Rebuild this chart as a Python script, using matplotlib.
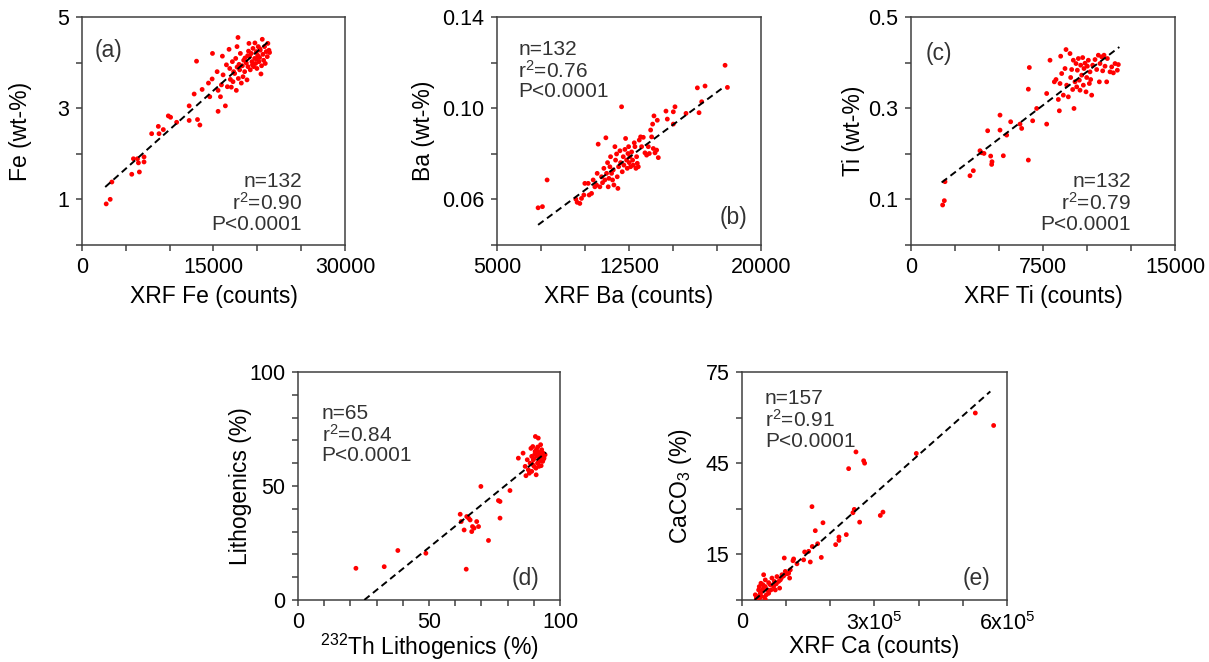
import matplotlib
matplotlib.use("Agg")
import matplotlib.pyplot as plt

plt.rcParams['font.family'] = ['Liberation Sans', 'DejaVu Sans']
plt.rcParams['mathtext.fontset'] = 'custom'
plt.rcParams['mathtext.rm'] = 'Liberation Sans'
plt.rcParams['mathtext.it'] = 'Liberation Sans:italic'

# (a) Fe
fe_x = [2765, 3220, 3410, 5680, 5870, 6330, 6440, 6550, 7080, 7080, 7950, 8710, 8790, 9280,
        9850, 10110, 10800, 12230, 12230, 12800, 13070, 13180, 13450, 13710, 14430, 14580,
        14850, 14890, 15420, 15530, 15530, 15800, 15910, 16020, 16100, 16360, 16480, 16590,
        16780, 16860, 16930, 17040, 17160, 17230, 17420, 17540, 17610, 17690, 17800, 17840,
        17920, 17990, 18070, 18180, 18300, 18370, 18450, 18560, 18750, 18830, 18940, 19050,
        19130, 19200, 19320, 19390, 19510, 19580, 19700, 19730, 19810, 19890, 19960, 20040,
        20110, 20190, 20260, 20340, 20420, 20490, 20570, 20640, 20720, 20830, 20910, 21020,
        21140, 21210, 21330, 21400, 18600, 19000, 19450, 19900, 20300, 17300, 17700, 18900]
fe_y = [0.90, 1.00, 1.38, 1.55, 1.89, 1.89, 1.80, 1.60, 1.93, 1.82, 2.44, 2.60, 2.44, 2.53,
        2.83, 2.80, 2.69, 3.05, 2.73, 3.31, 4.03, 2.75, 2.63, 3.41, 3.55, 3.25,
        3.64, 4.20, 3.80, 3.39, 2.93, 3.25, 3.51, 4.14, 3.73, 3.05, 3.95, 3.47,
        4.29, 3.87, 3.63, 3.46, 4.02, 3.58, 3.76, 4.09, 3.39, 4.35, 4.55, 3.65,
        3.96, 3.84, 4.20, 3.55, 3.93, 3.69, 4.05, 3.80, 3.99, 3.62, 3.91, 4.42,
        4.13, 3.84, 4.20, 4.02, 4.31, 3.91, 4.09, 4.43, 3.98, 4.24, 3.87, 4.16,
        4.35, 4.02, 4.11, 4.27, 3.75, 3.93, 4.51, 4.18, 4.05, 4.35, 3.98, 4.24,
        4.13, 4.42, 4.27, 4.22, 4.10, 4.25, 3.95, 4.08, 4.30, 3.80, 3.90, 4.15]
fe_fit_x = [2650, 21500]
fe_fit_y = [1.27, 4.50]

# (b) Ba
ba_x = [7333, 7580, 7845, 9477, 9552, 9704, 9799, 9932, 9989, 10180, 10236, 10370, 10463,
        10558, 10653, 10690, 10747, 10843, 10938, 10994, 11070, 11127, 11184, 11222, 11279,
        11317, 11355, 11411, 11450, 11507, 11564, 11602, 11640, 11697, 11735, 11791, 11829,
        11867, 11906, 11982, 12020, 12076, 12114, 12171, 12209, 12266, 12304, 12361, 12399,
        12437, 12475, 12512, 12550, 12588, 12645, 12702, 12740, 12797, 12835, 12892, 12930,
        12968, 13025, 13081, 13157, 13214, 13309, 13404, 13499, 13594, 13651, 13727, 13783,
        13840, 13878, 13916, 13973, 14067, 14105, 14162, 14598, 14674, 15015, 15110, 15015,
        15736, 16381, 16476, 16627, 16817, 17955, 18088]
ba_y = [0.0563, 0.0568, 0.0685, 0.0601, 0.0587, 0.0582, 0.0604, 0.0619, 0.0670, 0.0670,
        0.0619, 0.0626, 0.0685, 0.0655, 0.0663, 0.0714, 0.0842, 0.0655, 0.0699, 0.0673,
        0.0736, 0.0685, 0.0870, 0.0714, 0.0761, 0.0655, 0.0692, 0.0743, 0.0787, 0.0714,
        0.0685, 0.0729, 0.0663, 0.0831, 0.0772, 0.0799, 0.0699, 0.0648, 0.0743, 0.0813,
        0.0761, 0.1006, 0.0721, 0.0787, 0.0750, 0.0819, 0.0867, 0.0772, 0.0736, 0.0801,
        0.0831, 0.0761, 0.0787, 0.0743, 0.0808, 0.0772, 0.0750, 0.0848, 0.0831, 0.0736,
        0.0787, 0.0758, 0.0743, 0.0860, 0.0874, 0.0831, 0.0872, 0.0804, 0.0794, 0.0831,
        0.0801, 0.0904, 0.0874, 0.0930, 0.0823, 0.0966, 0.0804, 0.0816, 0.0947, 0.0783,
        0.0987, 0.0952, 0.0984, 0.1006, 0.0930, 0.0977, 0.1089, 0.0980, 0.1028, 0.1097,
        0.1188, 0.1091]
ba_fit_x = [7333, 17822]
ba_fit_y = [0.0488, 0.1089]

# (c) Ti
ti_x = [1799, 1894, 1932, 3352, 3542, 3920, 4015, 4148, 4356, 4527, 4602, 4583, 5057, 5057,
        5246, 5436, 5663, 6193, 6288, 6667, 6723, 6667, 6913, 7140, 7708, 7708, 7898, 8144,
        8239, 8371, 8428, 8466, 8504, 8561, 8655, 8750, 8807, 8845, 8939, 9034, 9072, 9129,
        9186, 9223, 9261, 9318, 9375, 9413, 9451, 9508, 9564, 9602, 9640, 9697, 9754, 9792,
        9830, 9886, 9943, 9981, 10019, 10076, 10133, 10170, 10208, 10265, 10322, 10455, 10549,
        10644, 10701, 10739, 10833, 10890, 10966, 11023, 11117, 11155, 11307, 11402, 11496,
        11591, 11723, 11780]
ti_y = [0.0876, 0.0971, 0.1387, 0.1518, 0.1628, 0.2066, 0.2022, 0.2007, 0.2504, 0.1949,
        0.1825, 0.1766, 0.2847, 0.2518, 0.1956, 0.2409, 0.2701, 0.2650, 0.2555, 0.3416,
        0.3891, 0.1861, 0.2723, 0.2993, 0.2650, 0.3321, 0.4051, 0.3577, 0.3628, 0.3190,
        0.2942, 0.3540, 0.4139, 0.3759, 0.3285, 0.3869, 0.4285, 0.3504, 0.3248, 0.4197,
        0.3672, 0.3847, 0.3409, 0.4051, 0.2993, 0.3577, 0.3978, 0.3467, 0.3832, 0.4088,
        0.3613, 0.3394, 0.3942, 0.3723, 0.4109, 0.3504, 0.3869, 0.3985, 0.3358, 0.3672,
        0.3920, 0.4051, 0.3540, 0.3796, 0.3628, 0.3285, 0.3942, 0.4066, 0.3847, 0.4161,
        0.3577, 0.3978, 0.4124, 0.3818, 0.4161, 0.3920, 0.3577, 0.4088, 0.3796, 0.3905,
        0.3774, 0.3978, 0.3832, 0.3956]
ti_fit_x = [1742, 11837]
ti_fit_y = [0.137, 0.434]

# (d) Lithogenics
li_x = [22.1, 32.9, 38.1, 48.8, 61.9, 62.3, 63.4, 64.2, 64.4, 65.1, 65.7, 66.3, 66.6, 67.2,
        68.2, 68.9, 69.8, 72.7, 76.5, 77.1, 77.1, 80.9, 84.1, 85.9, 86.7, 87.0, 87.5, 87.9,
        88.3, 88.6, 89.2, 89.2, 89.6, 89.8, 90.1, 90.5, 90.6, 90.9, 91.1, 91.4, 91.5, 91.7,
        92.0, 92.1, 92.4, 92.6, 92.8, 93.0, 93.3, 93.4, 93.6, 93.9, 94.3, 90.0, 91.0, 92.2,
        89.5, 93.1, 90.4, 91.8, 88.9, 92.5, 90.8, 91.6, 93.7]
li_y = [13.9, 14.6, 21.7, 20.5, 37.6, 34.4, 30.7, 13.5, 36.6, 35.9, 35.1, 30.0, 32.2, 31.5,
        34.4, 32.2, 49.8, 26.1, 43.6, 43.2, 35.9, 48.0, 62.2, 64.4, 58.6, 54.5, 61.5, 57.1,
        55.6, 60.0, 63.0, 56.4, 67.3, 61.5, 58.6, 65.2, 71.7, 54.9, 63.0, 60.0, 67.1, 71.0,
        58.6, 64.4, 61.5, 68.1, 58.9, 65.9, 63.0, 60.8, 64.4, 62.2, 63.7, 62.0, 66.0, 62.8,
        59.5, 61.0, 64.0, 60.5, 66.5, 63.5, 57.8, 65.0, 61.8]
li_fit_x = [25.3, 94.7]
li_fit_y = [0.0, 64.7]

# (e) CaCO3
ca_x = [528300, 569800, 394700, 258100, 241500, 275500, 277700, 158500, 254300, 251300,
        313200, 319200, 266400, 183400, 166000, 236200, 219600, 219600, 171300, 212100,
        159200, 150900, 141900, 154700, 179600, 139600, 124500, 117000, 115500, 95800,
        109400, 105700, 98100, 90600, 86800, 79200, 73200, 67900, 64200, 60400, 52800,
        49100, 46800, 41500, 39200, 35500, 32500, 58100, 55100, 50600, 45300, 43000, 37700,
        40000, 30200, 65700, 71700, 77700, 83000, 89100, 94300, 101900, 107900, 85300,
        75500, 60400, 52800, 47500, 43000, 52800]
ca_y = [61.5, 57.4, 48.2, 48.7, 43.2, 45.8, 45.0, 30.7, 29.8, 28.7, 27.8, 28.9, 25.6, 25.4,
        22.8, 21.5, 20.7, 19.6, 18.5, 18.2, 17.6, 16.0, 15.8, 12.5, 14.0, 13.2, 11.9, 13.5,
        12.9, 13.8, 9.9, 8.8, 9.4, 8.3, 6.6, 7.7, 6.1, 7.2, 5.0, 5.7, 6.6, 8.3, 3.5, 2.2,
        4.4, 1.1, 0.6, 3.3, 1.7, 0.9, 2.8, 1.3, 3.3, 0.6, 1.7, 3.3, 4.4, 5.3, 6.1, 7.2, 7.9,
        8.6, 7.2, 3.9, 3.3, 2.2, 0.2, 5.0, 5.5, 4.4]
ca_fit_x = [28700, 562300]
ca_fit_y = [0.0, 68.6]

SPINE = '#404040'
TXT = '#333333'

fig = plt.figure(figsize=(12.09, 6.62), dpi=100)


def panel(rect, x, y, fx, fy, xlim, ylim, xticks, yticks, xlabels, ylabels,
          xlab, ylab, ylab_x, xlab_y):
    ax = fig.add_axes(rect)
    ax.scatter(x, y, s=12, c='red', edgecolors='none', zorder=3)
    ax.plot(fx, fy, color='black', lw=1.4, ls=(0, (3.5, 2.2)), zorder=4)
    ax.set_xlim(xlim)
    ax.set_ylim(ylim)
    ax.set_xticks(xticks)
    ax.set_yticks(yticks)
    ax.set_xticklabels(xlabels)
    ax.set_yticklabels(ylabels)
    for s in ax.spines.values():
        s.set_color(SPINE)
        s.set_linewidth(1.1)
    ax.tick_params(direction='out', length=4, width=1.1, color=SPINE,
                   labelsize=15.5, pad=5, top=False, right=False)
    ax.set_xlabel(xlab, fontsize=16.5)
    ax.set_ylabel(ylab, fontsize=16.5)
    # ylabel anchor is its right edge, xlabel anchor is its top edge
    ax.yaxis.set_label_coords(ylab_x, 0.5)
    ax.xaxis.set_label_coords(0.5, xlab_y)
    return ax


def stats(ax, x, y, lines, ha, va):
    ax.text(x, y, "\n".join(lines), transform=ax.transAxes, ha=ha, va=va,
            fontsize=15, color=TXT, linespacing=1.05)


ax = panel([0.0678, 0.63, 0.2175, 0.3444], fe_x, fe_y, fe_fit_x, fe_fit_y,
           (0, 30000), (0, 5), range(0, 30001, 5000), range(0, 6),
           ['0', '', '', '15000', '', '', '30000'], ['', '1', '', '3', '', '5'],
           'XRF Fe (counts)', 'Fe (wt-%)', -0.19, -0.175)
ax.text(0.05, 0.855, '(a)', transform=ax.transAxes, fontsize=16.5, color=TXT, va='center')
stats(ax, 0.836, 0.05, ['n=132', 'r$^2$=0.90', 'P<0.0001'], 'right', 'bottom')

ax = panel([0.4111, 0.63, 0.2184, 0.3444], ba_x, ba_y, ba_fit_x, ba_fit_y,
           (5000, 20000), (0.04, 0.14), range(5000, 20001, 2500),
           [0.04, 0.06, 0.08, 0.10, 0.12, 0.14],
           ['5000', '', '', '12500', '', '', '20000'], ['', '0.06', '', '0.10', '', '0.14'],
           'XRF Ba (counts)', 'Ba (wt-%)', -0.235, -0.175)
stats(ax, 0.08, 0.90, ['n=132', 'r$^2$=0.76', 'P<0.0001'], 'left', 'top')
ax.text(0.947, 0.12, '(b)', transform=ax.transAxes, fontsize=16.5, color=TXT,
        ha='right', va='center')

ax = panel([0.7535, 0.63, 0.2184, 0.3444], ti_x, ti_y, ti_fit_x, ti_fit_y,
           (0, 15000), (0, 0.5), range(0, 15001, 2500), [0, 0.1, 0.2, 0.3, 0.4, 0.5],
           ['0', '', '', '7500', '', '', '15000'], ['', '0.1', '', '0.3', '', '0.5'],
           'XRF Ti (counts)', 'Ti (wt-%)', -0.174, -0.175)
ax.text(0.057, 0.84, '(c)', transform=ax.transAxes, fontsize=16.5, color=TXT, va='center')
stats(ax, 0.833, 0.05, ['n=132', 'r$^2$=0.79', 'P<0.0001'], 'right', 'bottom')

ax = panel([0.2465, 0.0937, 0.2167, 0.3444], li_x, li_y, li_fit_x, li_fit_y,
           (0, 100), (0, 100), range(0, 101, 10), range(0, 101, 10),
           ['0', '', '', '', '', '50', '', '', '', '', '100'],
           ['0', '', '', '', '', '50', '', '', '', '', '100'],
           '$^{232}$Th Lithogenics (%)', 'Lithogenics (%)', -0.176, -0.14)
stats(ax, 0.09, 0.86, ['n=65', 'r$^2$=0.84', 'P<0.0001'], 'left', 'top')
ax.text(0.92, 0.096, '(d)', transform=ax.transAxes, fontsize=16.5, color=TXT,
        ha='right', va='center')

ax = panel([0.6137, 0.0937, 0.2192, 0.3444], ca_x, ca_y, ca_fit_x, ca_fit_y,
           (0, 600000), (0, 75), range(0, 600001, 100000), range(0, 76, 15),
           ['0', '', '', '3x10$^5$', '', '', '6x10$^5$'], ['', '15', '', '45', '', '75'],
           'XRF Ca (counts)', 'CaCO$_3$ (%)', -0.18, -0.155)
stats(ax, 0.087, 0.925, ['n=157', 'r$^2$=0.91', 'P<0.0001'], 'left', 'top')
ax.text(0.936, 0.096, '(e)', transform=ax.transAxes, fontsize=16.5, color=TXT,
        ha='right', va='center')

fig.savefig('out.png', dpi=100)
